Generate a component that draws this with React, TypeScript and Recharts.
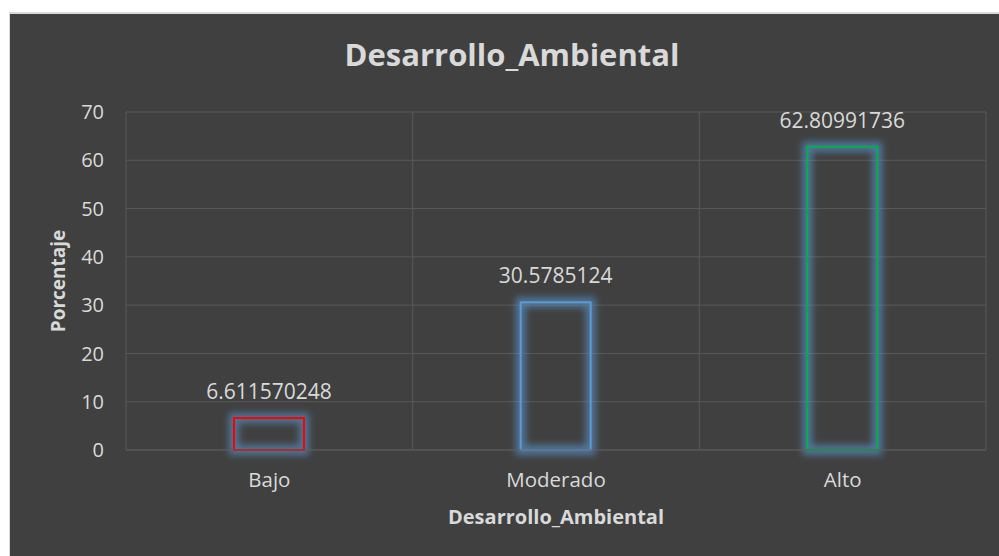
import React from 'react';
import { BarChart, Bar, XAxis, YAxis, CartesianGrid, Cell, LabelList } from 'recharts';

const categories = ['Bajo', 'Moderado', 'Alto'];
const values = [6.611570248, 30.5785124, 62.80991736];
const yTicks = [0, 10, 20, 30, 40, 50, 60, 70];
const barColors = ['#ff0000', '#5b9bd5', '#00b050'];

const data = categories.map((c, i) => ({ name: c, value: values[i] }));

const FONT = '"Open Sans", sans-serif';
const TEXT = '#d9d9d9';
const GRID = '#595959';

const GlowBar = (props: any) => {
  const { x, y, width, height, stroke } = props;
  if (width == null || height == null) return null;
  return (
    <g>
      <rect x={x} y={y} width={width} height={height} fill="none" stroke="#5b9bd5" strokeOpacity={0.6} strokeWidth={10} style={{ filter: 'blur(3.5px)' }} />
      <rect x={x} y={y} width={width} height={height} fill="none" stroke={stroke} strokeWidth={2} />
    </g>
  );
};

export default function App() {
  const W = 989;
  const H = 543;
  return (
    <div style={{ position: 'absolute', left: 9, top: 12, width: W, height: H, background: '#404040', borderLeft: '1px solid #d9d9d9', borderTop: '2px solid #d9d9d9', fontFamily: FONT }}>
      <div style={{ position: 'absolute', left: 502, top: 19, transform: 'translateX(-50%)', color: TEXT, fontWeight: 700, fontSize: 31, whiteSpace: 'nowrap', fontFamily: FONT }}>
        Desarrollo_Ambiental
      </div>
      <BarChart width={W} height={H} data={data} margin={{ top: 98, right: 13, left: 36, bottom: 27 }}>
        <CartesianGrid
          stroke={GRID}
          strokeWidth={1}
          verticalCoordinatesGenerator={({ offset }: any) => [
            offset.left,
            offset.left + offset.width / 3,
            offset.left + (2 * offset.width) / 3,
            offset.left + offset.width,
          ]}
        />
        <XAxis
          dataKey="name"
          height={80}
          axisLine={{ stroke: GRID }}
          tickLine={false}
          tickSize={0}
          tickMargin={22}
          tick={{ fill: TEXT, fontSize: 20.5, fontFamily: FONT }}
          label={{ value: 'Desarrollo_Ambiental', position: 'insideBottom', offset: 6, fill: TEXT, fontSize: 20, fontWeight: 700, fontFamily: FONT }}
        />
        <YAxis
          width={80}
          domain={[0, 70]}
          ticks={yTicks}
          axisLine={false}
          tickLine={false}
          tickSize={0}
          tickMargin={22}
          tick={{ fill: TEXT, fontSize: 20, fontFamily: FONT }}
          label={{ value: 'Porcentaje', angle: -90, position: 'insideLeft', offset: 12, fill: TEXT, fontSize: 19, fontWeight: 700, fontFamily: FONT, style: { textAnchor: 'middle' } }}
        />
        <Bar dataKey="value" barSize={70} isAnimationActive={false} shape={<GlowBar />}>
          {data.map((d, i) => (
            <Cell key={d.name} stroke={barColors[i]} fill="none" />
          ))}
          <LabelList dataKey="value" position="top" offset={19} fill={TEXT} fontSize={21} fontFamily={FONT} />
        </Bar>
      </BarChart>
    </div>
  );
}
